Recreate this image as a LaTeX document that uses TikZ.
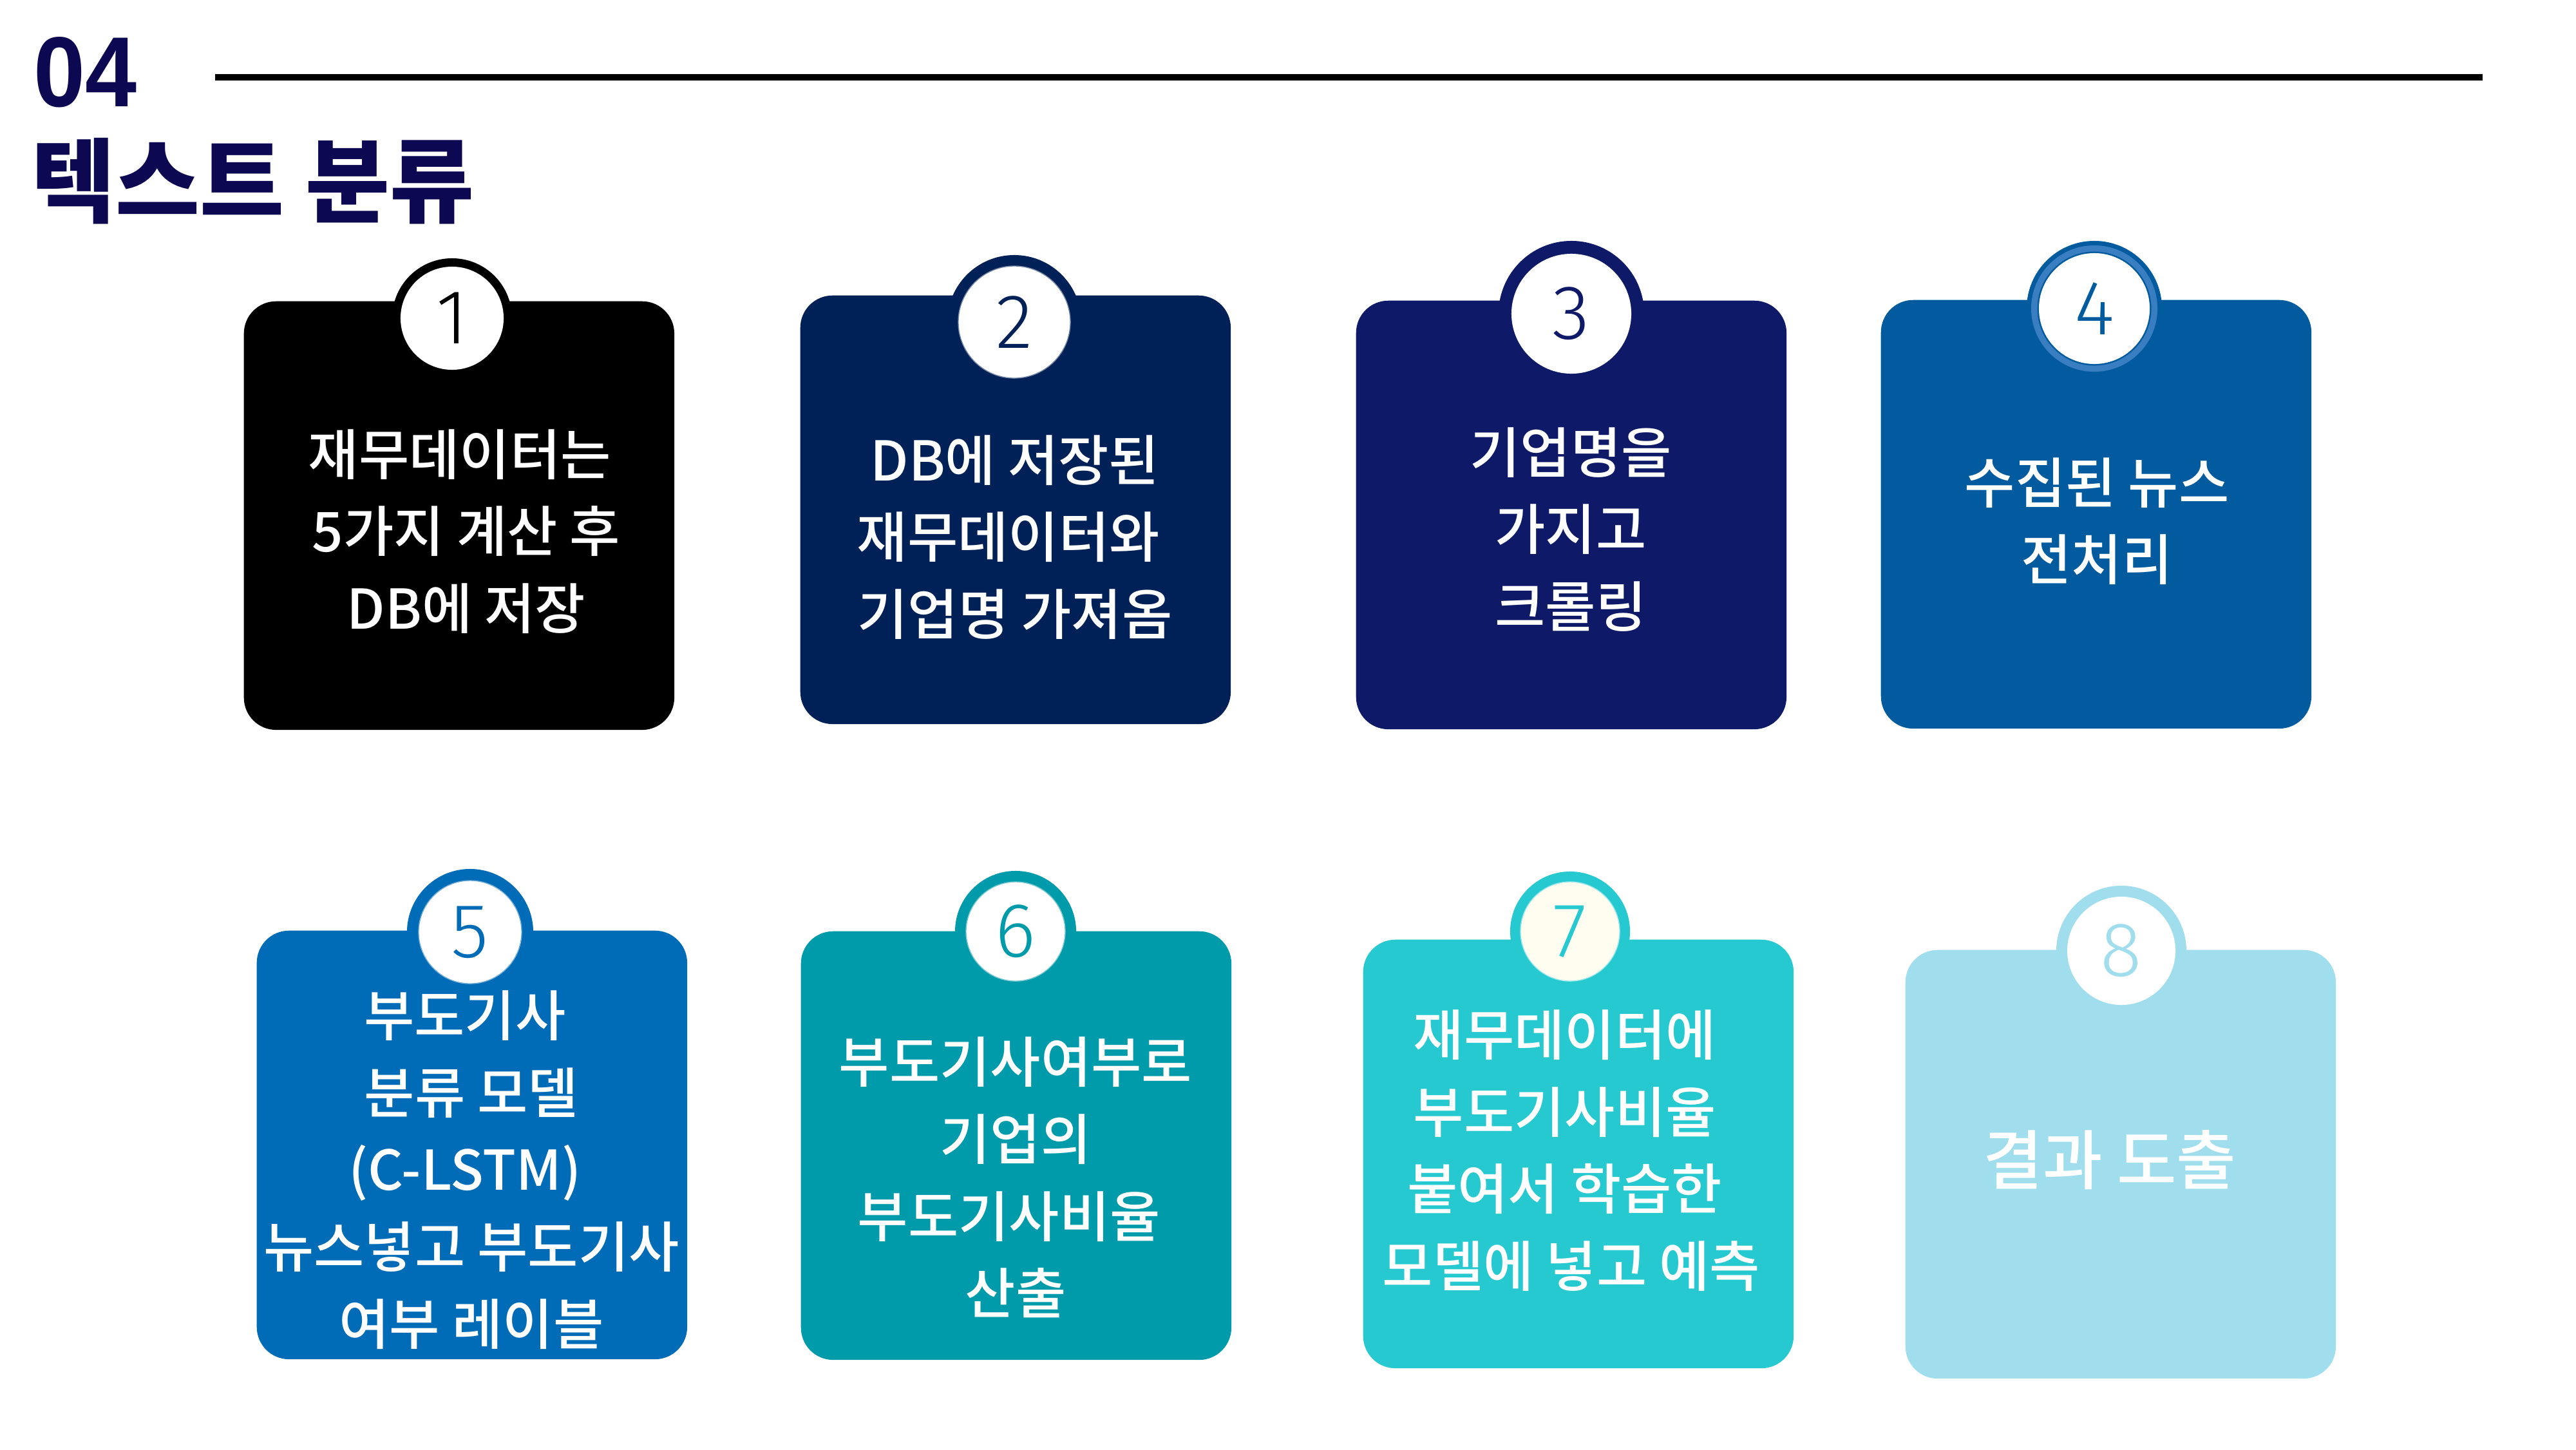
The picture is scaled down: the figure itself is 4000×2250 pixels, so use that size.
\documentclass[tikz,border=0pt]{standalone}
\usepackage{fontspec}
\newfontfamily\kr{Noto Sans CJK KR}
\IfFontExistsTF{Noto Sans CJK KR Medium}{\newfontfamily\krm{Noto Sans CJK KR Medium}}{\newfontfamily\krm{Noto Sans CJK KR}}
\IfFontExistsTF{Noto Sans CJK KR Black}{\newfontfamily\krh{Noto Sans CJK KR Black}}{\newfontfamily\krh{Noto Sans CJK KR Bold}}
\IfFontExistsTF{Fira Sans Light}{\newfontfamily\numfont{Fira Sans Light}}{\IfFontExistsTF{Lato Light}{\newfontfamily\numfont{Lato Light}}{\newfontfamily\numfont{Fira Sans}}}
\newfontfamily\headfont{Liberation Sans}
\IfFontExistsTF{Noto Sans CJK KR Medium}{\newcommand\cardfont{\krm}}{\newcommand\cardfont{\kr\bfseries}}
\newcommand\tsp{\kern0.24em}
\definecolor{navy}{RGB}{12,9,82}
\definecolor{cA}{RGB}{0,0,0}
\definecolor{cB}{RGB}{0,33,87}
\definecolor{cC}{RGB}{14,26,103}
\definecolor{cD}{RGB}{2,91,158}
\definecolor{cDring}{RGB}{58,126,194}
\definecolor{cE}{RGB}{0,107,182}
\definecolor{cF}{RGB}{0,155,170}
\definecolor{cG}{RGB}{39,201,209}
\definecolor{cH}{RGB}{160,222,238}
\definecolor{cream}{RGB}{254,253,240}
\tikzset{
  card/.style={fill=#1, rounded corners=0.5cm, minimum width=6.68cm, minimum height=6.65cm, inner sep=0pt, anchor=north west},
  disc/.style={circle, fill=#1, inner sep=0pt, draw=none},
  cardtext/.style={text=white, align=center, inner sep=0pt, font=\cardfont\fontsize{24.2}{34}\selectfont},
  numtext/.style={text=#1, inner sep=0pt, font=\numfont\fontsize{34}{34}\selectfont}
}
\begin{document}
\begin{tikzpicture}[x=0.01cm,y=-0.01cm]
\useasboundingbox (0,0) rectangle (4000,2250);
\fill[white] (0,0) rectangle (4000,2250);

% header
\node[anchor=west, inner sep=0pt, text=navy, font=\headfont\bfseries\fontsize{44}{44}\selectfont] (secnum) at (52,112) {\scalebox{0.93}[1]{04}};
\node[anchor=west, inner sep=0pt, text=navy, font=\krh\fontsize{40.5}{40.5}\selectfont] (title) at (48,281) {텍스트 분류};
\coordinate (ruleL) at (334,120);
\coordinate (ruleR) at (3855,120);
\draw[line width=3.1pt] (ruleL) -- (ruleR);

% ---- card 1
\node[disc=cA, minimum size=1.86cm] (o1) at (702,494) {};
\node[card=cA] (b1) at (378,467) {};
\node[disc=white, minimum size=1.6cm] (i1) at (702,494) {};
\node[numtext=cA] (n1) at (702,494) {1};
\node[cardtext] (t1) at (724,825) {재무데이터는\tsp\\5가지 계산 후\\DB에 저장};

% ---- card 2
\node[disc=cB, minimum size=2.08cm] (o2) at (1575,500) {};
\node[card=cB] (b2) at (1242,458) {};
\node[disc=white, minimum size=1.74cm, draw=cB!55!white, line width=0.4pt] (i2) at (1575,500) {};
\node[numtext=cB] (n2) at (1575,500) {2};
\node[cardtext] (t2) at (1576,834) {DB에 저장된\\재무데이터와\tsp\\기업명 가져옴};

% ---- card 3
\node[disc=cC, minimum size=2.26cm] (o3) at (2440,487) {};
\node[card=cC] (b3) at (2105,466) {};
\node[disc=white, minimum size=1.86cm] (i3) at (2440,487) {};
\node[numtext=cC] (n3) at (2440,487) {3};
\node[cardtext] (t3) at (2439,822) {기업명을\\가지고\\크롤링};

% ---- card 4
\node[disc=cD, minimum size=2.1cm] (o4) at (3252,479) {};
\node[card=cD] (b4) at (2920,465) {};
\node[disc=cDring, minimum size=1.96cm] (r4) at (3252,479) {};
\node[disc=cD, minimum size=1.77cm] (k4) at (3252,479) {};
\node[disc=white, minimum size=1.72cm] (i4) at (3252,479) {};
\node[numtext=cD] (n4) at (3252,479) {4};
\node[cardtext] (t4) at (3256,809) {수집된 뉴스\\전처리};

% ---- card 5
\node[disc=cE, minimum size=1.96cm] (o5) at (730,1447) {};
\node[card=cE] (b5) at (398,1444) {};
\node[disc=white, minimum size=1.6cm, draw=cE!55!white, line width=0.4pt] (i5) at (730,1447) {};
\node[numtext=cE] (n5) at (730,1447) {5};
\node[cardtext] (t5) at (732,1816) {부도기사\tsp\\분류 모델\\(C-LSTM)\tsp\\뉴스넣고 부도기사\\여부 레이블};

% ---- card 6
\node[disc=cF, minimum size=1.88cm] (o6) at (1577,1446) {};
\node[card=cF] (b6) at (1243,1445) {};
\node[disc=white, minimum size=1.54cm, draw=cF!55!white, line width=0.4pt] (i6) at (1577,1446) {};
\node[numtext=cF] (n6) at (1577,1446) {6};
\node[cardtext] (t6) at (1577,1828) {부도기사여부로\\기업의\\부도기사비율\tsp\\산출};

% ---- card 7
\node[disc=cG, minimum size=1.86cm] (o7) at (2438,1446) {};
\node[card=cG] (b7) at (2116,1458) {};
\node[disc=cream, minimum size=1.54cm, draw=cG!45!white, line width=0.4pt] (i7) at (2438,1446) {};
\node[numtext=cG] (n7) at (2438,1446) {7};
\node[cardtext] (t7) at (2440,1786) {재무데이터에\tsp\\부도기사비율\tsp\\붙여서 학습한\tsp\\모델에 넣고 예측};

% ---- card 8
\node[disc=cH, minimum size=2.02cm] (o8) at (3294,1476) {};
\node[card=cH] (b8) at (2958,1474) {};
\node[disc=white, minimum size=1.68cm] (i8) at (3294,1476) {};
\node[numtext=cH] (n8) at (3294,1476) {8};
\node[cardtext, font=\cardfont\fontsize{28.6}{32}\selectfont] (t8) at (3276,1801) {결과 도출};
\end{tikzpicture}
\end{document}
